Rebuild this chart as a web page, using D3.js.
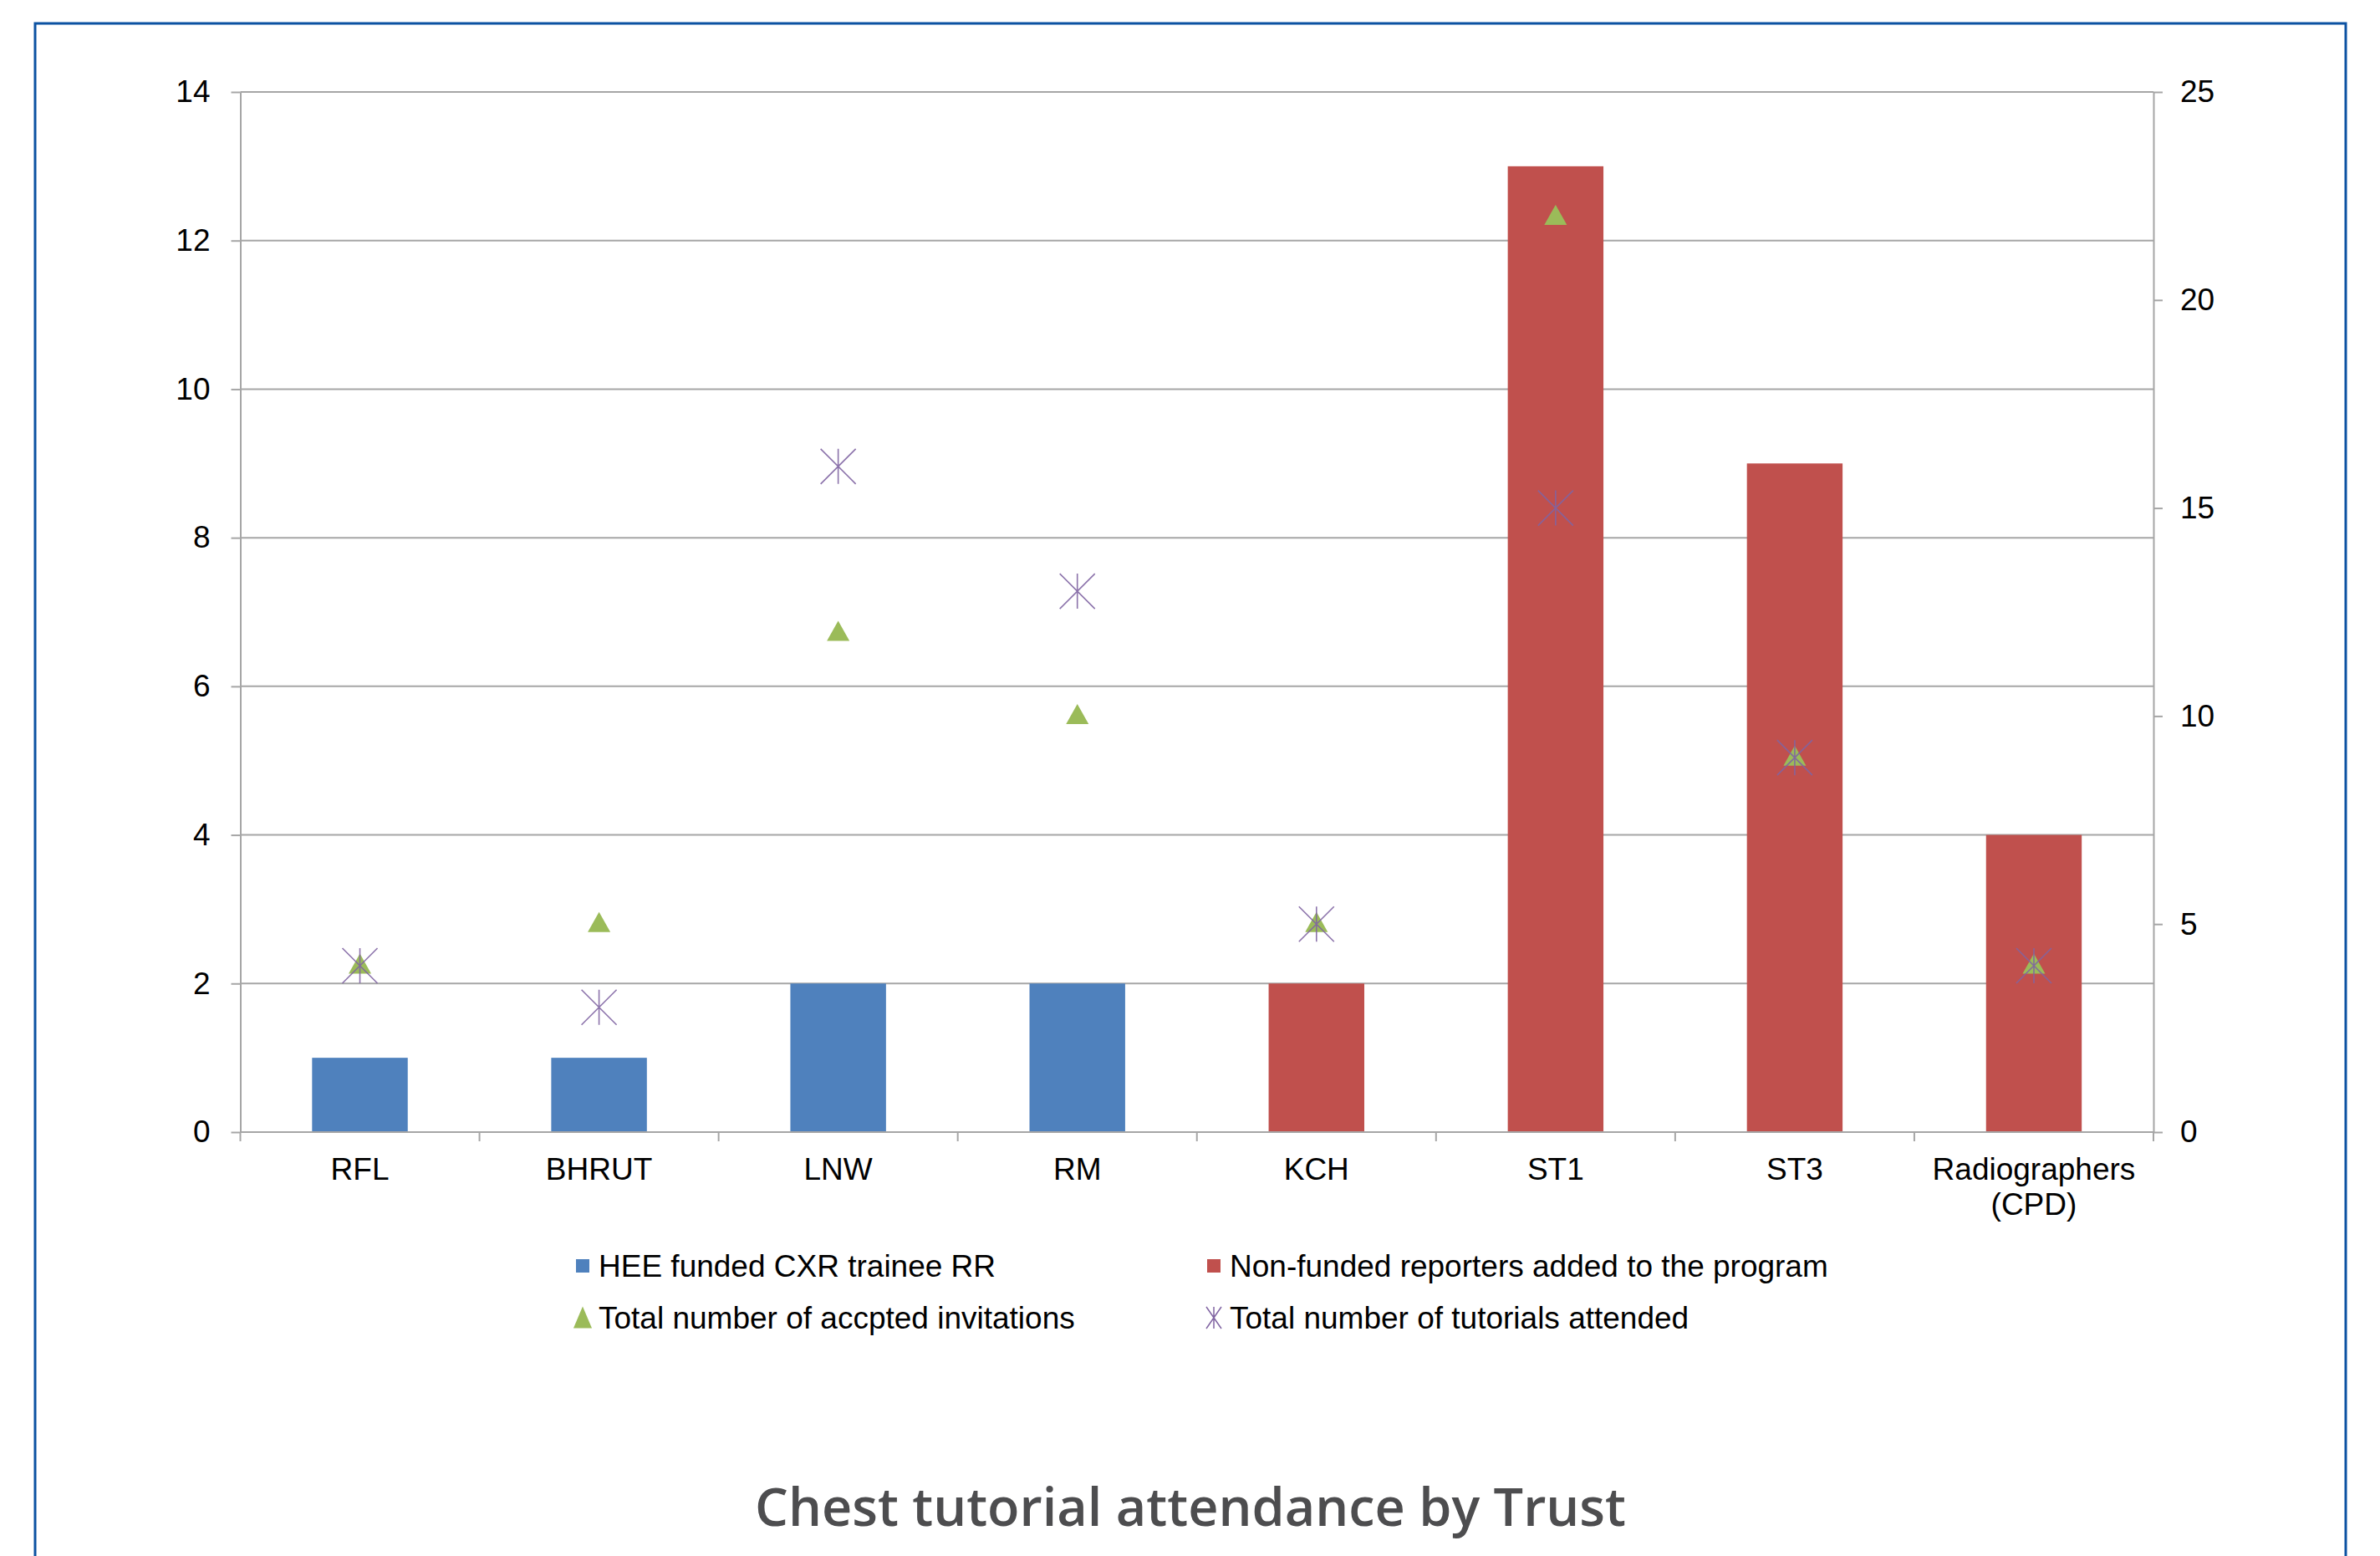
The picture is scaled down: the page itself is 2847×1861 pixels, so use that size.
<!DOCTYPE html>
<html>
<head>
<meta charset="utf-8">
<script src="https://cdn.jsdelivr.net/npm/d3@7"></script>
<style>
  html, body { margin: 0; padding: 0; background: #ffffff; }
  svg { display: block; }
</style>
</head>
<body>
<svg id="chart" width="2847" height="1861"></svg>
<script>
// Chest tutorial attendance, per trust
const categories = ["RFL", "BHRUT", "LNW", "RM", "KCH", "ST1", "ST3", "Radiographers\n(CPD)"];
const heeFunded = [1, 1, 2, 2, null, null, null, null];        // HEE funded CXR trainee RR (left axis)
const nonFunded = [null, null, null, null, 2, 13, 9, 4];       // Non-funded reporters (left axis)
const acceptedInvitations = [4, 5, 12, 10, 5, 22, 9, 4];       // right axis
const tutorialsAttended = [4, 3, 16, 13, 5, 15, 9, 4];         // right axis

const leftTicks = [0, 2, 4, 6, 8, 10, 12, 14];
const rightTicks = [0, 5, 10, 15, 20, 25];

const legendItems = [
  { label: "HEE funded CXR trainee RR", kind: "square", color: "#4f81bd" },
  { label: "Non-funded reporters added to the program", kind: "square", color: "#c0504d" },
  { label: "Total number of accpted invitations", kind: "triangle", color: "#9bbb59" },
  { label: "Total number of tutorials attended", kind: "star", color: "#8064a2" }
];

const COLORS = { blue: "#4f81bd", red: "#c0504d", green: "#9bbb59", purple: "#8064a2", grid: "#a6a6a6" };
const FONT = "'Liberation Sans', Arial, sans-serif";
const FS = 37;

const svg = d3.select("#chart");

// outer frame
svg.append("rect")
  .attr("x", 42).attr("y", 28)
  .attr("width", 2764).attr("height", 1900)
  .attr("fill", "none")
  .attr("stroke", "#0c52a2")
  .attr("stroke-width", 3);

const plot = { left: 287.5, right: 2576, top: 110, bottom: 1354 };

const x = d3.scaleBand()
  .domain(categories)
  .range([plot.left, plot.right])
  .paddingInner(0)
  .paddingOuter(0);

const barW = x.bandwidth() * 0.4;

const yL = d3.scaleLinear().domain([0, 14]).range([plot.bottom, plot.top]);
const yR = d3.scaleLinear().domain([0, 25]).range([plot.bottom, plot.top]);

// horizontal gridlines (left axis)
svg.append("g")
  .selectAll("line")
  .data(leftTicks)
  .join("line")
  .attr("x1", plot.left).attr("x2", plot.right)
  .attr("y1", d => yL(d)).attr("y2", d => yL(d))
  .attr("stroke", COLORS.grid)
  .attr("stroke-width", 2);

// bars
const barData = categories.map((c, i) => ({
  cat: c,
  value: heeFunded[i] != null ? heeFunded[i] : nonFunded[i],
  color: heeFunded[i] != null ? COLORS.blue : COLORS.red
}));

svg.append("g")
  .selectAll("rect")
  .data(barData)
  .join("rect")
  .attr("x", d => x(d.cat) + (x.bandwidth() - barW) / 2)
  .attr("y", d => yL(d.value))
  .attr("width", barW)
  .attr("height", d => yL(0) - yL(d.value))
  .attr("fill", d => d.color);

// left axis
const axL = svg.append("g")
  .attr("transform", `translate(${plot.left},0)`)
  .call(d3.axisLeft(yL).tickValues(leftTicks).tickSize(11).tickSizeOuter(0).tickPadding(25));
// right axis
const axR = svg.append("g")
  .attr("transform", `translate(${plot.right},0)`)
  .call(d3.axisRight(yR).tickValues(rightTicks).tickSize(11).tickSizeOuter(0).tickPadding(21));

[axL, axR].forEach(ax => {
  ax.select(".domain").attr("stroke", COLORS.grid).attr("stroke-width", 2);
  ax.selectAll(".tick line").attr("stroke", COLORS.grid).attr("stroke-width", 2);
  ax.selectAll(".tick text")
    .attr("font-family", FONT)
    .attr("font-size", FS)
    .attr("fill", "#000");
});

// bottom axis: category boundary ticks
const boundaries = categories.map(c => x(c)).concat([x(categories[categories.length - 1]) + x.bandwidth()]);
svg.append("g")
  .selectAll("line")
  .data(boundaries)
  .join("line")
  .attr("x1", d => d).attr("x2", d => d)
  .attr("y1", plot.bottom).attr("y2", plot.bottom + 11)
  .attr("stroke", COLORS.grid)
  .attr("stroke-width", 2);

svg.append("line")
  .attr("x1", plot.left).attr("x2", plot.right)
  .attr("y1", plot.bottom).attr("y2", plot.bottom)
  .attr("stroke", COLORS.grid)
  .attr("stroke-width", 2);

// category labels
const catLabels = svg.append("g")
  .selectAll("text")
  .data(categories)
  .join("text")
  .attr("x", d => x(d) + x.bandwidth() / 2)
  .attr("y", 1411)
  .attr("text-anchor", "middle")
  .attr("font-family", FONT)
  .attr("font-size", FS)
  .attr("fill", "#000");
catLabels.each(function (d) {
  const lines = d.split("\n");
  d3.select(this).selectAll("tspan")
    .data(lines)
    .join("tspan")
    .attr("x", x(d) + x.bandwidth() / 2)
    .attr("dy", (l, i) => i === 0 ? 0 : 42)
    .text(l => l);
});

// marker shapes
function trianglePath(cx, cy, w, h) {
  return `M${cx},${cy - h * 0.6}L${cx + w / 2},${cy + h * 0.4}L${cx - w / 2},${cy + h * 0.4}Z`;
}
function starPath(cx, cy, s) {
  const r = s / 2;
  return `M${cx - r},${cy - r}L${cx + r},${cy + r}M${cx + r},${cy - r}L${cx - r},${cy + r}M${cx},${cy - r}L${cx},${cy + r}`;
}

// accepted invitations (triangles, right axis)
svg.append("g")
  .selectAll("path")
  .data(acceptedInvitations.map((v, i) => ({ v, c: categories[i] })))
  .join("path")
  .attr("d", d => trianglePath(x(d.c) + x.bandwidth() / 2, yR(d.v), 27, 24))
  .attr("fill", COLORS.green);

// tutorials attended (asterisks, right axis)
svg.append("g")
  .selectAll("path")
  .data(tutorialsAttended.map((v, i) => ({ v, c: categories[i] })))
  .join("path")
  .attr("d", d => starPath(x(d.c) + x.bandwidth() / 2, yR(d.v), 42))
  .attr("fill", "none")
  .attr("stroke", COLORS.purple)
  .attr("stroke-width", 1.6)
  .attr("opacity", 0.9);

// legend
const legendPos = [
  { x: 697, y: 1514 }, { x: 1452, y: 1514 },
  { x: 697, y: 1576 }, { x: 1452, y: 1576 }
];
const legend = svg.append("g");
legendItems.forEach((item, i) => {
  const p = legendPos[i];
  const g = legend.append("g").attr("transform", `translate(${p.x},${p.y})`);
  if (item.kind === "square") {
    g.append("rect").attr("x", -8).attr("y", -8).attr("width", 16).attr("height", 16).attr("fill", item.color);
  } else if (item.kind === "triangle") {
    g.append("path").attr("d", trianglePath(0, 2, 22, 26)).attr("fill", item.color);
  } else {
    g.append("path").attr("d", `M-9,-13L9,13M9,-13L-9,13M0,-13L0,13`)
      .attr("stroke", item.color).attr("stroke-width", 1.5).attr("fill", "none");
  }
  g.append("text")
    .attr("x", 19)
    .attr("y", 13)
    .attr("font-family", FONT)
    .attr("font-size", FS)
    .attr("fill", "#000")
    .text(item.label);
});

// title
svg.append("text")
  .attr("x", 1424)
  .attr("y", 1825)
  .attr("text-anchor", "middle")
  .attr("font-family", "'Open Sans', 'Noto Sans', sans-serif")
  .attr("font-weight", 600)
  .attr("font-size", 63)
  .attr("fill", "#4d4d4f")
  .text("Chest tutorial attendance by Trust");
</script>
</body>
</html>
